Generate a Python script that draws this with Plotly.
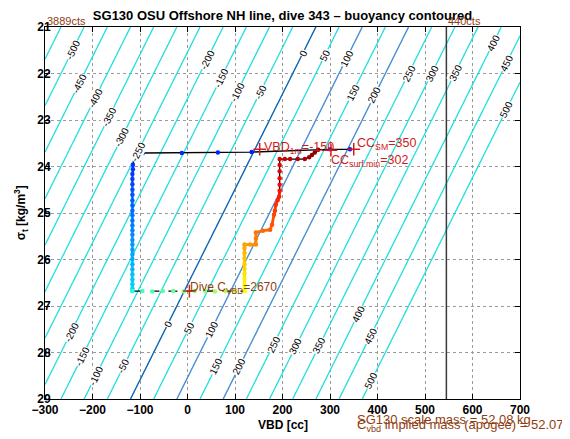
import numpy as np
import plotly.graph_objects as go
from plotly.colors import sample_colorscale

# ---------------- data ----------------
x_ticks = [-300, -200, -100, 0, 100, 200, 300, 400, 500, 600, 700]
y_ticks = [21, 22, 23, 24, 25, 26, 27, 28, 29]

# linear buoyancy model  b[g] = A*VBD + C*sigma + D
BUOY_A = 1.025
BUOY_C = 50.0
BUOY_D = -1327.0
contour_start, contour_end, contour_step = -600, 500, 50
special_dark = [0]
special_mid = [100, 200]

# contour label positions (level, sigma_t)
lab_top_levels = [-500, -450, -400, -350, -300, -250, -200, -150, -100, -50, 0, 50, 100, 150, 200, 250, 300, 350, 400, 450, 500]
lab_top_sigma = [21.5, 22.21, 22.53, 22.94, 23.38, 23.69, 21.71, 22.10, 22.40, 22.40, 21.56, 21.61, 21.67, 22.40, 22.46, 21.99, 21.99, 21.99, 21.35, 21.78, 22.78]
lab_bot_levels = [-200, -150, -100, -50, 0, 50, 100, 150, 200, 250, 300, 350, 400, 450, 500]
lab_bot_sigma = [27.56, 28.08, 28.51, 28.29, 27.39, 27.46, 27.50, 28.31, 28.31, 27.82, 27.86, 27.86, 27.18, 27.65, 28.61]

# dive trajectory
desc_top_vbd = [342, 300, 135, 64, -12, -94, -112]
desc_top_sigma = [23.63, 23.63, 23.69, 23.70, 23.71, 23.71, 23.85]
desc_vert_vbd = [-115, -115, -116, -116, -116, -116, -116, -116, -116, -116, -116, -116, -116, -116,
                 -116, -116, -116, -116, -116, -116, -116, -116, -116, -116, -116, -116, -116]
desc_vert_sigma = [23.96, 24.06, 24.16, 24.27, 24.38, 24.50, 24.61, 24.73, 24.84, 24.95, 25.05, 25.16, 25.27,
                   25.37, 25.47, 25.58, 25.68, 25.79, 25.89, 25.99, 26.10, 26.21, 26.32, 26.43, 26.53, 26.62, 26.68]
bottom_vbd = [-116, -95, -74, -52, -30, -8, 15, 37, 58, 80, 100, 120]
bottom_sigma = [26.68, 26.68, 26.69, 26.68, 26.68, 26.69, 26.68, 26.68, 26.69, 26.68, 26.68, 26.68]
asc_vbd = [120, 120, 120, 120, 120, 120, 120, 120, 120, 120, 132, 144, 144, 144, 159, 174, 178, 182, 184,
           186, 190, 193, 194, 194, 194, 194, 194, 194, 205, 216, 232, 247, 256, 262, 268, 275]
asc_sigma = [26.68, 26.55, 26.42, 26.30, 26.20, 26.10, 25.98, 25.86, 25.75, 25.68, 25.68, 25.68, 25.55, 25.42,
             25.38, 25.36, 25.25, 25.04, 24.95, 24.82, 24.72, 24.65, 24.52, 24.39, 24.25, 24.10, 23.97, 23.84,
             23.84, 23.84, 23.84, 23.84, 23.80, 23.75, 23.70, 23.64]
n_asc_colored = 23  # ascent points drawn with a thick coloured line

# special points
vbd_1m_plot, vbd_1m_sigma, vbd_1m_val = 152, 23.63, -150
cc_sm_plot, cc_sm_sigma, cc_sm_val = 350, 23.63, 350
cc_surf_plot, cc_surf_sigma, cc_surf_val = 302, 23.65, 302
cvbd_plot, cvbd_sigma, cvbd_val = 4, 26.68, 2670
cts_min_vbd, cts_min_label = -300, "3889cts"
cts_max_vbd, cts_max_label = 545, "440cts"
scale_mass = "52.08"
implied_mass = "52.075"

# ---------------- styling ----------------
CYAN = "#22dede"
DARKBLUE = "#2b55b2"
MIDBLUE = "#6f7fd2"
RED = "#d11a1a"
BROWN = "#8f3d10"
FONT = "Liberation Sans, Arial, Helvetica, sans-serif"

jet = [[0.0, "rgb(0,0,128)"], [0.125, "rgb(0,0,255)"], [0.375, "rgb(0,255,255)"],
       [0.625, "rgb(255,255,0)"], [0.875, "rgb(255,0,0)"], [1.0, "rgb(128,0,0)"]]

fig = go.Figure()

# buoyancy field contours
gx = np.linspace(-300, 700, 101)
gy = np.linspace(21, 29, 81)
GX, GY = np.meshgrid(gx, gy)
Z = BUOY_A * GX + BUOY_C * GY + BUOY_D

def add_contour(start, end, color, width):
    fig.add_trace(go.Contour(
        x=gx, y=gy, z=Z, autocontour=False,
        contours=dict(start=start, end=end, size=contour_step, coloring="none", showlabels=False),
        line=dict(color=color, width=width), showscale=False, hoverinfo="skip"))

add_contour(contour_start, contour_end, CYAN, 1.3)
for lv in special_mid:
    add_contour(lv, lv, MIDBLUE, 1.1)
for lv in special_dark:
    add_contour(lv, lv, DARKBLUE, 1.2)

# colour values per phase
c_desc_top = np.linspace(0.15, 0.17, len(desc_top_vbd))
c_desc_vert = np.linspace(0.17, 0.34, len(desc_vert_vbd))
c_bottom = np.linspace(0.42, 0.58, len(bottom_vbd))
c_asc = np.linspace(0.62, 1.0, len(asc_vbd))

# black base lines
fig.add_trace(go.Scatter(x=desc_top_vbd + desc_vert_vbd, y=desc_top_sigma + desc_vert_sigma, mode="lines",
                         line=dict(color="black", width=1.3), hoverinfo="skip"))
fig.add_trace(go.Scatter(x=bottom_vbd, y=bottom_sigma, mode="lines",
                         line=dict(color="black", width=1.1, dash="dash"), hoverinfo="skip"))
fig.add_trace(go.Scatter(x=asc_vbd, y=asc_sigma, mode="lines",
                         line=dict(color="black", width=1.3), hoverinfo="skip"))

# coloured segments
def colored_segments(xs, ys, cs, width):
    for i in range(len(xs) - 1):
        col = sample_colorscale(jet, [(cs[i] + cs[i + 1]) / 2])[0]
        fig.add_trace(go.Scatter(x=[xs[i], xs[i + 1]], y=[ys[i], ys[i + 1]], mode="lines",
                                 line=dict(color=col, width=width), hoverinfo="skip"))

colored_segments(desc_vert_vbd, desc_vert_sigma, c_desc_vert, 2.2)
colored_segments(asc_vbd[:n_asc_colored], asc_sigma[:n_asc_colored], c_asc[:n_asc_colored], 2.8)

# markers
all_x = desc_top_vbd + desc_vert_vbd + bottom_vbd + asc_vbd
all_y = desc_top_sigma + desc_vert_sigma + bottom_sigma + asc_sigma
all_c = list(c_desc_top) + list(c_desc_vert) + list(c_bottom) + list(c_asc)
fig.add_trace(go.Scatter(x=all_x, y=all_y, mode="markers",
                         marker=dict(size=4.5, color=all_c, colorscale=jet, cmin=0, cmax=1,
                                     line=dict(width=0)), hoverinfo="skip"))

# "+" markers
fig.add_trace(go.Scatter(x=[vbd_1m_plot, cc_sm_plot, cc_surf_plot], y=[vbd_1m_sigma, cc_sm_sigma, cc_surf_sigma],
                         mode="markers", marker=dict(symbol="cross-thin", size=9, line=dict(color=RED, width=1.5)),
                         hoverinfo="skip"))
fig.add_trace(go.Scatter(x=[cvbd_plot], y=[cvbd_sigma], mode="markers",
                         marker=dict(symbol="cross-thin", size=9, line=dict(color="#c0301a", width=1.5)),
                         hoverinfo="skip"))

# vertical count limit line
fig.add_shape(type="line", x0=cts_max_vbd, x1=cts_max_vbd, y0=0, y1=1, xref="x", yref="paper",
              line=dict(color="#3a3a3a", width=1.5))

ann = []
# contour labels
angle = -np.degrees(np.arctan2(BUOY_A * 372 / 8, BUOY_C * 475 / 1000))
for levels, sigmas in ((lab_top_levels, lab_top_sigma), (lab_bot_levels, lab_bot_sigma)):
    for lv, sg in zip(levels, sigmas):
        xv = (lv - BUOY_C * sg - BUOY_D) / BUOY_A
        ann.append(dict(x=xv, y=sg, text=str(lv), showarrow=False, textangle=angle,
                        font=dict(size=10, color="black", family=FONT), bgcolor="white", borderpad=0))

# trajectory texts
ann.append(dict(x=vbd_1m_plot, y=vbd_1m_sigma, text=f"VBD<sub>1m</sub>=-{abs(vbd_1m_val)}", showarrow=False,
                xanchor="left", yanchor="middle", xshift=2, yshift=1, font=dict(size=12.5, color=RED, family=FONT)))
ann.append(dict(x=cc_sm_plot, y=cc_sm_sigma, text=f"CC<sub>SM</sub>={cc_sm_val}", showarrow=False,
                xanchor="left", yanchor="middle", xshift=1, yshift=5, font=dict(size=12.5, color=RED, family=FONT)))
ann.append(dict(x=cc_surf_plot, y=cc_surf_sigma, text=f"CC<sub>surf min</sub>={cc_surf_val}", showarrow=False,
                xanchor="left", yanchor="middle", xshift=-2, yshift=-11, font=dict(size=12.5, color=RED, family=FONT)))
ann.append(dict(x=cvbd_plot, y=cvbd_sigma, text=f"Dive C<sub>VBD</sub>={cvbd_val}", showarrow=False,
                xanchor="left", yanchor="middle", xshift=-1, yshift=3, font=dict(size=12, color=BROWN, family=FONT)))

# count labels above axis
ann.append(dict(x=cts_min_vbd, y=1, xref="x", yref="paper", text=cts_min_label, showarrow=False,
                xanchor="left", yanchor="bottom", yshift=-2, font=dict(size=11, color=BROWN, family=FONT)))
ann.append(dict(x=cts_max_vbd, y=1, xref="x", yref="paper", text=cts_max_label, showarrow=False,
                xanchor="left", yanchor="bottom", yshift=-2, font=dict(size=11, color=BROWN, family=FONT)))

# mass texts
ann.append(dict(x=0.6526, y=-0.056, xref="paper", yref="paper", text=f"SG130 scale mass = {scale_mass} kg",
                showarrow=False, xanchor="left", yanchor="middle", font=dict(size=13, color=BROWN, family=FONT)))
ann.append(dict(x=0.6526, y=-0.072, xref="paper", yref="paper",
                text=f"C<sub>vbd</sub> implied mass (apogee) = {implied_mass}",
                showarrow=False, xanchor="left", yanchor="middle", font=dict(size=13, color=BROWN, family=FONT)))

# axis titles
ann.append(dict(x=0.5, y=-0.07, xref="paper", yref="paper", text="<b>VBD [cc]</b>", showarrow=False,
                xanchor="center", yanchor="middle", font=dict(size=12, color="black", family=FONT)))
ann.append(dict(x=-0.05, y=0.5, xref="paper", yref="paper", text="<b>σ<sub>t</sub> [kg/m<sup>3</sup>]</b>",
                showarrow=False, textangle=-90, xanchor="center", yanchor="middle",
                font=dict(size=12, color="black", family=FONT)))

axis_common = dict(showline=True, linecolor="black", linewidth=1, mirror="ticks", ticks="inside",
                   ticklen=5, tickcolor="black", showgrid=True, gridcolor="#9a9a9a", griddash="dot",
                   gridwidth=1, zeroline=False, tickfont=dict(size=12, color="black", family=FONT, weight="bold"))

# the page body adds an 8px offset, so the figure is 8px smaller and margins shifted
fig.update_layout(
    width=562, height=431,
    margin=dict(l=37, r=50, t=19, b=40),
    paper_bgcolor="white", plot_bgcolor="white",
    showlegend=False, hovermode=False,
    title=dict(text="<b>SG130 OSU Offshore NH line, dive 343 – buoyancy contoured</b>",
               x=(37 + 237.5) / 562, xanchor="center", y=1 - 7 / 431, yanchor="middle", yref="container",
               font=dict(size=13, color="black", family=FONT)),
    xaxis=dict(range=[-300, 700], tickvals=x_ticks, automargin=False, **axis_common),
    yaxis=dict(range=[29, 21], tickvals=y_ticks, automargin=False, ticklabelstandoff=-9, **axis_common),
    annotations=ann,
)

fig.write_html("out.html")
